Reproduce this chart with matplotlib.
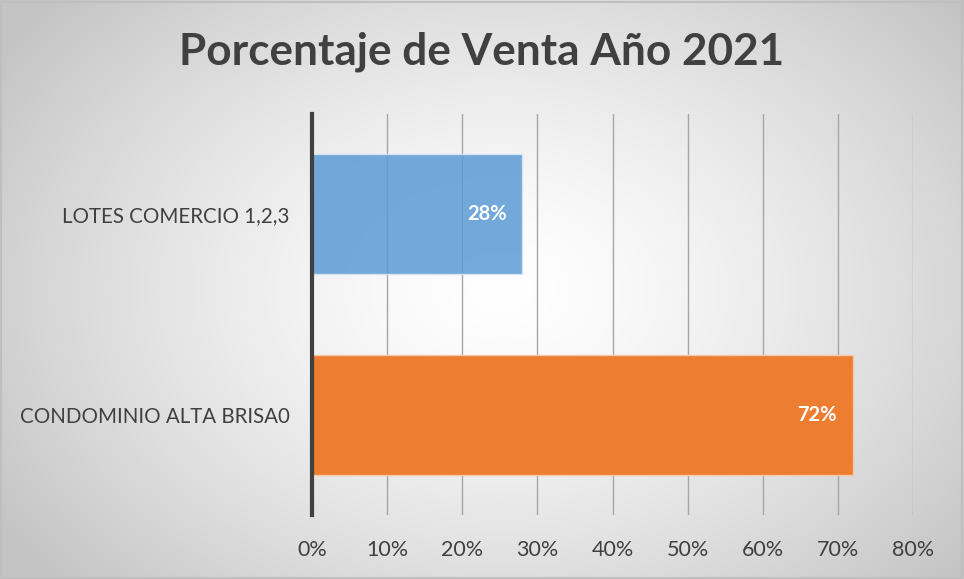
import numpy as np
import matplotlib
matplotlib.use("Agg")
import matplotlib.pyplot as plt

categories = ["CONDOMINIO ALTA BRISA0", "LOTES COMERCIO 1,2,3"]
values = [0.72, 0.28]
colors = ["#ED7D31", "#5B9BD5"]
alphas = [1.0, 0.85]
xticks = [0, 0.1, 0.2, 0.3, 0.4, 0.5, 0.6, 0.7, 0.8]
title = "Porcentaje de Venta Año 2021"

plt.rcParams['font.family'] = ['Lato', 'DejaVu Sans']

W, H = 964, 579
fig = plt.figure(figsize=(W/100, H/100), dpi=100)

# radial gradient background
bg = fig.add_axes([0, 0, 1, 1], zorder=-10)
yy, xx = np.mgrid[0:H, 0:W]
cx, cy = W*0.52, H*0.5
r = np.sqrt(((xx-cx)/(W*0.62))**2 + ((yy-cy)/(H*0.75))**2)
r = np.clip(r, 0, 1)
val = 1.0 - 0.23*r**1.4
img = np.dstack([val, val, val])
bg.imshow(img, extent=[0, 1, 0, 1], aspect='auto', origin='upper')
bg.set_xlim(0, 1); bg.set_ylim(0, 1)
bg.axis('off')
bg.add_patch(plt.Rectangle((0.001, 0.002), 0.997, 0.995, fill=False,
                           edgecolor="#bfbfbf", lw=1.5, transform=bg.transAxes))

ax = fig.add_axes([312/W, 1-515/H, (913-312)/W, (515-114)/H])
ax.patch.set_alpha(0)
y = np.arange(len(categories))
bars = ax.barh(y, values, height=0.6, color=colors, zorder=3)
for b, a in zip(bars, alphas):
    b.set_alpha(a)
    b.set_edgecolor("#dbe7f3" if a < 1 else "#f5c9a8")
    b.set_linewidth(1)
for yi, v in zip(y, values):
    ax.text(v - 0.021, yi, f"{int(round(v*100))}%", ha='right', va='center',
            color='white', fontsize=14.5, fontweight='bold', zorder=4)

ax.set_xlim(0, 0.8)
ax.set_ylim(-0.5, 1.5)
ax.set_xticks(xticks)
ax.set_xticklabels([f"{int(round(t*100))}%" for t in xticks], color="#404040", fontsize=15.5)
ax.set_yticks(y)
ax.set_yticklabels(categories, color="#404040", fontsize=14.8)
ax.tick_params(axis='both', length=0)
ax.tick_params(axis='x', pad=18)
ax.tick_params(axis='y', pad=16)
ax.grid(axis='x', color="#a6a6a6", lw=1, zorder=0)
ax.set_axisbelow(True)
for s in ['top', 'right', 'bottom']:
    ax.spines[s].set_visible(False)
ax.spines['left'].set_color("#404040")
ax.spines['left'].set_linewidth(3)
ax.spines['left'].set_zorder(5)

fig.text(0.4995, 1-52/H, title, ha='center', va='center', fontsize=31.8,
         fontweight='bold', color="#404040")

fig.savefig("out.png", dpi=100)
